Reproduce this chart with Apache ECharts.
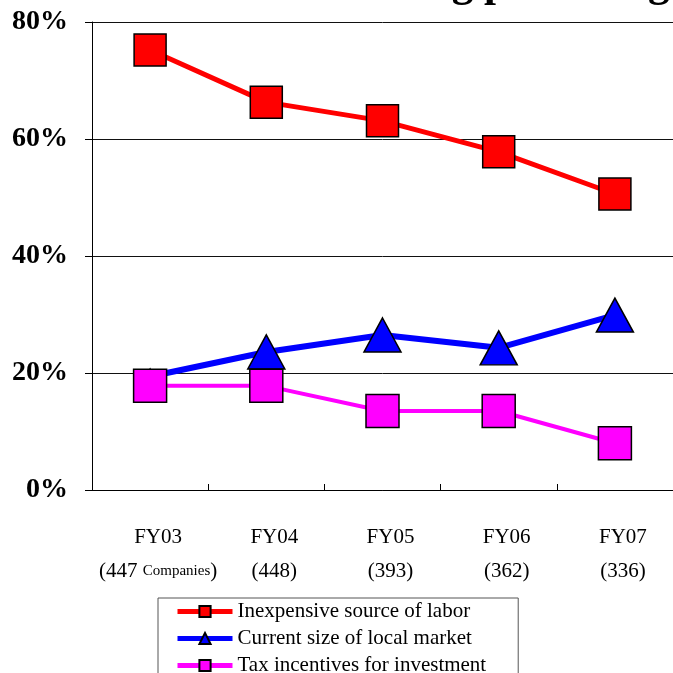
<!DOCTYPE html>
<html>
<head>
<meta charset="utf-8">
<script src="https://cdn.jsdelivr.net/npm/echarts@6/dist/echarts.min.js"></script>
<style>
  html, body { margin: 0; padding: 0; background: #fff; }
  #main { width: 673px; height: 673px; }
</style>
</head>
<body>
<div id="main"></div>
<script>
var years = ['FY03', 'FY04', 'FY05', 'FY06', 'FY07'];
var companies = ['447', '448', '393', '362', '336'];
var labor = [75.2, 66.3, 63.1, 57.8, 50.6];
var market = [19.4, 23.6, 26.5, 24.3, 29.9];
var tax = [17.8, 17.8, 13.5, 13.5, 8.0];
var yTicks = [0, 20, 40, 60, 80];

var serif = '"Liberation Serif", "Times New Roman", serif';
var myChart = echarts.init(document.getElementById('main'));

// first blue triangle sits behind the pink square and is drawn smaller
var marketData = market.map(function (v, i) {
    return i === 0 ? { value: v, symbolSize: [17, 15] } : v;
});

var option = {
    animation: false,
    backgroundColor: '#fff',
    graphic: [{
        type: 'text',
        x: 146,
        y: -15,
        style: {
            text: 'Reasons for being promising',
            font: 'bold 43px ' + serif,
            fill: '#000',
            align: 'left',
            verticalAlign: 'middle'
        }
    }],
    grid: {
        left: 92,
        right: 0,
        top: 22,
        bottom: 183
    },
    legend: {
        orient: 'vertical',
        left: 158,
        top: 598,
        height: 120,
        padding: [3, 32, 5, 17],
        itemGap: 6,
        itemWidth: 55,
        itemHeight: 14,
        borderColor: '#555',
        borderWidth: 1,
        lineStyle: { width: 5 },
        textStyle: { fontFamily: serif, fontSize: 21, color: '#000' },
        data: ['Inexpensive source of labor', 'Current size of local market', 'Tax incentives for investment']
    },
    xAxis: {
        type: 'category',
        data: years,
        boundaryGap: true,
        axisLine: { lineStyle: { color: '#000', width: 1 } },
        axisTick: { show: true, inside: true, length: 6, lineStyle: { color: '#000' } },
        axisLabel: {
            interval: 0,
            margin: 30,
            padding: [0, 0, 0, 16],
            formatter: function (v, i) {
                if (i === 0) {
                    return '{a|' + v + '}\n{b|(' + companies[i] + ' }{c|Companies}{b|)}';
                }
                return '{a|' + v + '}\n{b|(' + companies[i] + ')}';
            },
            rich: {
                a: { fontFamily: serif, fontSize: 21, color: '#000', lineHeight: 34 },
                b: { fontFamily: serif, fontSize: 21, color: '#000', lineHeight: 34 },
                c: { fontFamily: serif, fontSize: 15, color: '#000', lineHeight: 34 }
            }
        }
    },
    yAxis: {
        type: 'value',
        min: yTicks[0],
        max: yTicks[yTicks.length - 1],
        interval: 20,
        axisLine: { show: true, lineStyle: { color: '#000', width: 1 } },
        axisTick: { show: true, length: 7, lineStyle: { color: '#000' } },
        splitLine: { show: true, lineStyle: { color: '#111', width: 1 } },
        axisLabel: {
            margin: 24,
            formatter: '{value}%',
            fontFamily: serif,
            fontSize: 28,
            fontWeight: 'bold',
            color: '#000'
        }
    },
    series: [
        {
            name: 'Inexpensive source of labor',
            type: 'line',
            data: labor,
            symbol: 'rect',
            symbolSize: 32,
            lineStyle: { color: '#ff0000', width: 5 },
            itemStyle: { color: '#ff0000', borderColor: '#000', borderWidth: 1.5 },
            z: 3
        },
        {
            name: 'Current size of local market',
            type: 'line',
            data: marketData,
            symbol: 'triangle',
            symbolSize: [37, 34],
            lineStyle: { color: '#0000ff', width: 6 },
            itemStyle: { color: '#0000ff', borderColor: '#000', borderWidth: 1.5 },
            z: 4
        },
        {
            name: 'Tax incentives for investment',
            type: 'line',
            data: tax,
            symbol: 'rect',
            symbolSize: 33,
            lineStyle: { color: '#ff00ff', width: 4 },
            itemStyle: { color: '#ff00ff', borderColor: '#000', borderWidth: 1.5 },
            z: 5
        }
    ]
};

myChart.setOption(option);
</script>
</body>
</html>
